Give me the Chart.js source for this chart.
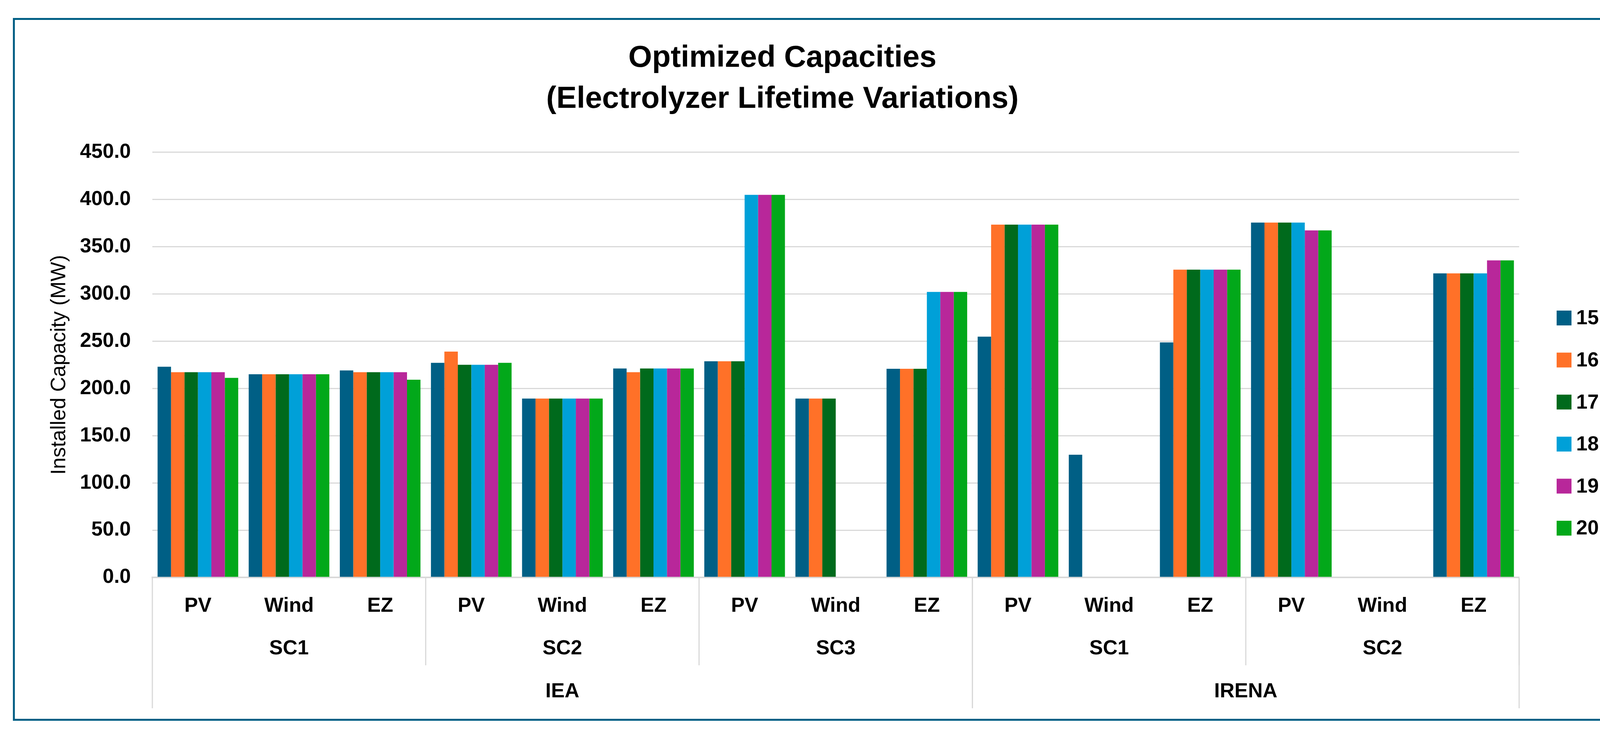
<!DOCTYPE html>
<html>
<head>
<meta charset="utf-8">
<script src="https://cdn.jsdelivr.net/npm/chart.js@4.4.1/dist/chart.umd.min.js"></script>
<style>
  html, body { margin: 0; padding: 0; background: #ffffff; }
  body { width: 4371px; height: 1884px; position: relative; overflow: hidden; }
  #frame {
    position: absolute; left: 33px; top: 46px; width: 4284px; height: 1789px;
    border: 5px solid #005f85;
  }
  #chart { position: absolute; left: 0; top: 0; width: 4371px; height: 1884px; }
</style>
</head>
<body>
<div id="frame"></div>
<canvas id="chart" width="4371" height="1884"></canvas>
<script>
// categorias (nivel 1 = tecnologia, nivel 2 = escenario, nivel 3 = fuente)
const techLabels = ["PV", "Wind", "EZ", "PV", "Wind", "EZ", "PV", "Wind", "EZ",
                    "PV", "Wind", "EZ", "PV", "Wind", "EZ"];
const scenarioLabels = ["SC1", "SC2", "SC3", "SC1", "SC2"];
const sourceLabels = ["IEA", "IRENA"];
const scenariosPerSource = [3, 2];

// series (vida util del electrolizador, anos)
const seriesLabels = ["15", "16", "17 (base)", "18", "19", "20"];
const s15 = [223.0, 215.1, 219.1, 227.2, 189.3, 221.2, 228.8, 189.3, 220.9, 254.9, 129.9, 248.8, 375.6, null, 321.9];
const s16 = [217.2, 215.1, 217.2, 239.1, 189.3, 217.2, 228.8, 189.3, 220.9, 373.5, null, 325.8, 375.6, null, 321.9];
const s17 = [217.2, 215.1, 217.2, 225.1, 189.3, 221.2, 228.8, 189.3, 220.9, 373.5, null, 325.8, 375.6, null, 321.9];
const s18 = [217.2, 215.1, 217.2, 225.1, 189.3, 221.2, 405.0, null, 302.2, 373.5, null, 325.8, 375.6, null, 321.9];
const s19 = [217.2, 215.1, 217.2, 225.1, 189.3, 221.2, 405.0, null, 302.2, 373.5, null, 325.8, 367.4, null, 335.6];
const s20 = [211.2, 215.1, 209.3, 227.2, 189.3, 221.2, 405.0, null, 302.2, 373.5, null, 325.8, 367.4, null, 335.6];
const seriesColors = ["#005f85", "#ff7128", "#006a1c", "#00a0d8", "#b8279a", "#02a81a"];

const FONT = "'Liberation Sans', Arial, sans-serif";
const GRID = "#d9d9d9";

// etiquetas jerarquicas del eje X + separadores
const groupLabelsPlugin = {
  id: "groupLabels",
  afterDraw(chart) {
    const x = chart.scales.x;
    const ctx = chart.ctx;
    const half = (x.getPixelForValue(1) - x.getPixelForValue(0)) / 2;
    const edge = (i) => x.getPixelForValue(i) - half;
    const base = chart.chartArea.bottom + 2;

    ctx.save();
    ctx.strokeStyle = GRID;
    ctx.lineWidth = 3;
    ctx.fillStyle = "#000";
    ctx.font = "bold 52px " + FONT;
    ctx.textAlign = "center";
    ctx.textBaseline = "middle";

    // escenarios
    scenarioLabels.forEach((lab, s) => {
      const a = edge(s * 3), b = edge(s * 3 + 3);
      ctx.fillText(lab, (a + b) / 2, 1661);
      ctx.beginPath();
      ctx.moveTo(b, base);
      ctx.lineTo(b, 1703);
      ctx.stroke();
    });

    // fuentes
    let start = 0;
    sourceLabels.forEach((lab, k) => {
      const end = start + scenariosPerSource[k] * 3;
      const a = edge(start), b = edge(end);
      ctx.fillText(lab, (a + b) / 2, 1771);
      [a, b].forEach((px) => {
        ctx.beginPath();
        ctx.moveTo(px, base);
        ctx.lineTo(px, 1813);
        ctx.stroke();
      });
      start = end;
    });
    ctx.restore();
  },
};

// leyenda a la derecha
const sideLegendPlugin = {
  id: "sideLegend",
  afterDraw(chart) {
    const ctx = chart.ctx;
    ctx.save();
    ctx.font = "bold 52px " + FONT;
    ctx.textAlign = "left";
    ctx.textBaseline = "middle";
    chart.data.datasets.forEach((ds, i) => {
      const cy = 814 + i * 107.6;
      ctx.fillStyle = ds.backgroundColor;
      ctx.fillRect(3985, cy - 19, 38, 38);
      ctx.fillStyle = "#000";
      ctx.fillText(ds.label, 4035, cy + 2);
    });
    ctx.restore();
  },
};

const allSeries = [s15, s16, s17, s18, s19, s20];

new Chart(document.getElementById("chart"), {
  type: "bar",
  data: {
    labels: techLabels,
    datasets: allSeries.map((vals, i) => ({
      label: seriesLabels[i],
      data: vals,
      backgroundColor: seriesColors[i],
      borderWidth: 0,
      barPercentage: 1.0,
      categoryPercentage: 0.885,
    })),
  },
  options: {
    responsive: false,
    devicePixelRatio: 1,
    animation: false,
    layout: { padding: { top: 0, left: 117, right: 482, bottom: 302 } },
    plugins: {
      legend: { display: false },
      tooltip: { enabled: false },
      title: {
        display: true,
        text: ["Optimized Capacities", "(Electrolyzer Lifetime Variations)"],
        color: "#000",
        font: { family: FONT, size: 78, weight: "bold", lineHeight: 1.346 },
        padding: { top: 97, bottom: 83 },
      },
    },
    scales: {
      x: {
        grid: { display: false },
        border: { display: true, color: GRID, width: 4 },
        ticks: {
          color: "#000",
          font: { family: FONT, size: 52, weight: "bold" },
          padding: 34,
          maxRotation: 0,
          autoSkip: false,
        },
        afterFit: (s) => { s.height = 104; },
      },
      y: {
        min: 0,
        max: 450,
        grid: { color: GRID, lineWidth: 3, drawTicks: false },
        border: { display: false },
        ticks: {
          stepSize: 50,
          color: "#000",
          padding: 55,
          font: { family: FONT, size: 52, weight: "bold" },
          callback: (v) => Number(v).toFixed(1),
        },
        title: {
          display: true,
          text: "Installed Capacity (MW)",
          color: "#000",
          font: { family: FONT, size: 53 },
          padding: { top: 4, bottom: 4 },
        },
        afterFit: (s) => { s.width = 273; },
      },
    },
  },
  plugins: [groupLabelsPlugin, sideLegendPlugin],
});
</script>
</body>
</html>
